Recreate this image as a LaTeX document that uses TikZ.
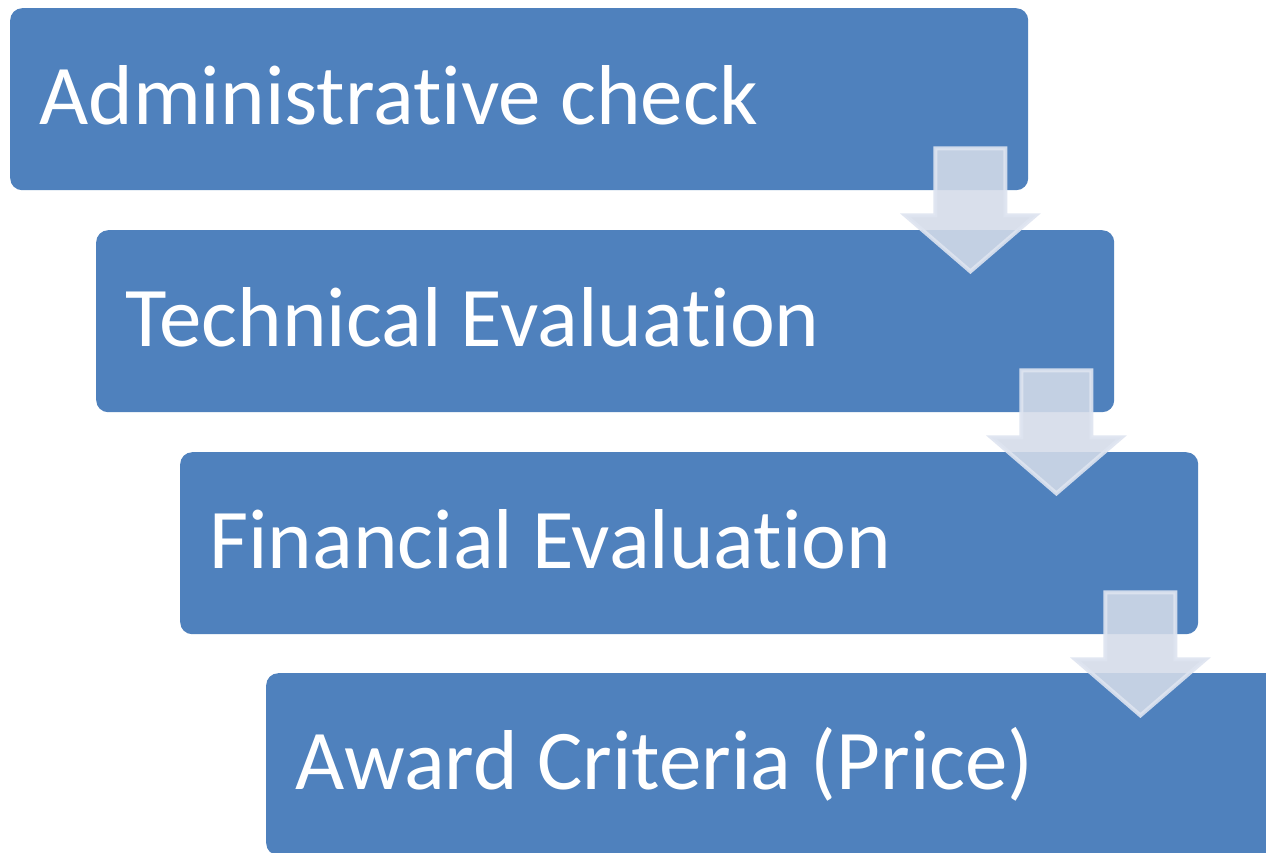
\documentclass[tikz,border=0pt]{standalone}
\usepackage{fontspec}
\setmainfont{Carlito}[Ligatures=NoCommon]
\usetikzlibrary{calc}
\definecolor{boxblue}{RGB}{79,129,189}
\definecolor{arrfill}{RGB}{212,219,233}
\definecolor{arrline}{RGB}{222,228,240}
\tikzset{
  stepbox/.style={fill=boxblue, draw=none, rounded corners=12pt, anchor=north west,
    minimum width=1018pt, minimum height=182pt, inner sep=0pt},
  steptext/.style={anchor=base west, inner sep=0pt, text=white,
    font=\fontsize{85}{102}\selectfont},
  blockarrow/.style={fill=arrfill, fill opacity=0.88, draw=arrline, draw opacity=0.9,
    line width=4pt, line join=miter}
}
\newcommand{\downarrowblock}[1]{%
  \begin{scope}[shift={(#1.south east)}]
    \draw[blockarrow] (-93,-42) -- (-23,-42) -- (-23,25) -- (7,25) -- (-58,81)
      -- (-123,25) -- (-93,25) -- cycle;
  \end{scope}}
\begin{document}
\begin{tikzpicture}[x=1pt,y=-1pt]
  \clip (0,0) rectangle (1266,852);
  \fill[white] (0,0) rectangle (1266,852);
  \node[stepbox] (b1) at (10,8) {};
  \node[stepbox] (b2) at (96,230) {};
  \node[stepbox] (b3) at (180,452) {};
  \node[stepbox] (b4) at (266,673) {};
  \node[steptext] (t1) at ($(b1.north west)+(29,116)$) {Administrative check};
  \node[steptext] (t2) at ($(b2.north west)+(29,116)$) {Technical Evaluation};
  \node[steptext] (t3) at ($(b3.north west)+(29,116)$) {Financial Evaluation};
  \node[steptext] (t4) at ($(b4.north west)+(29,116)$) {Award Criteria (Price)};
  \downarrowblock{b1}
  \downarrowblock{b2}
  \downarrowblock{b3}
\end{tikzpicture}
\end{document}
